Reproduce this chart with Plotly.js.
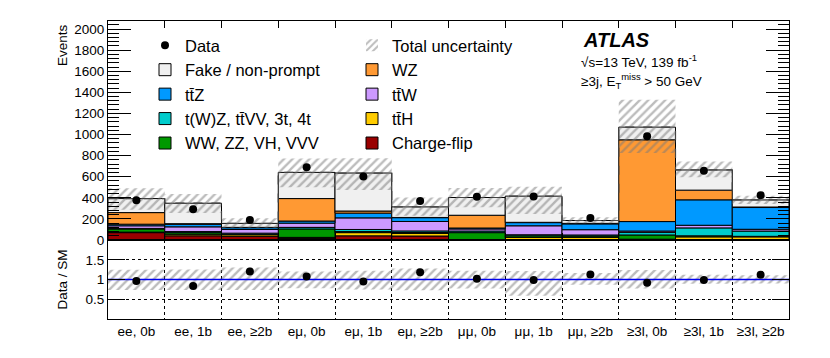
<!DOCTYPE html>
<html><head><meta charset="utf-8">
<script src="https://cdn.plot.ly/plotly-3.0.1.min.js"></script>
<style>html,body{margin:0;padding:0;background:#fff}#plot{width:830px;height:358px}</style>
</head><body><div id="plot"></div>
<script>
const categories = ['ee, 0b','ee, 1b','ee, ≥2b','eμ, 0b','eμ, 1b','eμ, ≥2b','μμ, 0b','μμ, 1b','μμ, ≥2b','≥3l, 0b','≥3l, 1b','≥3l, ≥2b'];
const dataCounts = [378, 292, 190, 689, 603, 371, 410, 412, 208, 984, 657, 425];
const chargeFlip = [70, 40, 35, 15, 40, 38, 0, 0, 0, 0, 0, 0];
const ttH        = [5, 15, 15, 10, 30, 25, 5, 25, 25, 8, 30, 30];
const dibosonVVV = [30, 15, 5, 80, 10, 8, 65, 15, 13, 40, 10, 5];
const tWZ        = [5, 10, 10, 15, 20, 15, 15, 10, 10, 25, 75, 50];
const ttW        = [25, 45, 35, 40, 110, 90, 20, 85, 50, 12, 25, 17];
const ttZ        = [15, 25, 17, 20, 45, 36, 9, 30, 55, 90, 241, 206];
const WZ         = [110, 5, 3, 213, 20, 2, 121, 3, 5, 775, 92, 5];
const fake       = [133, 194, 38, 248, 360, 100, 168, 248, 27, 120, 191, 67];
const uncUp      = [98, 88, 48, 132, 140, 88, 90, 90, 30, 260, 80, 40];
const uncDown    = [105, 92, 42, 140, 160, 85, 92, 170, 25, 245, 70, 38];

const centers = categories.map((_, i) => i);
const edges = centers.map(c => c - 0.5).concat([categories.length - 0.5]);

const stack = [
  {name:'Charge-flip', v:chargeFlip, color:'#990000', legend:'legend2', rank:5},
  {name:'tt̄H', v:ttH, color:'#ffcc00', legend:'legend2', rank:4},
  {name:'WW, ZZ, VH, VVV', v:dibosonVVV, color:'#009900', legend:'legend', rank:5},
  {name:'t(W)Z, tt̄VV, 3t, 4t', v:tWZ, color:'#00cccc', legend:'legend', rank:4},
  {name:'tt̄W', v:ttW, color:'#cc99ff', legend:'legend2', rank:3},
  {name:'tt̄Z', v:ttZ, color:'#0099ff', legend:'legend', rank:3},
  {name:'WZ', v:WZ, color:'#ff9933', legend:'legend2', rank:2},
  {name:'Fake / non-prompt', v:fake, color:'#f0f0f0', legend:'legend', rank:2}
];

const traces = [];
let base = categories.map(() => 0);
stack.forEach(s => {
  traces.push({type:'bar', x:centers, y:s.v, base:base.slice(), width:1,
    marker:{color:s.color, line:{color:'#000', width:1}},
    name:s.name, legend:s.legend, legendrank:s.rank, xaxis:'x', yaxis:'y', hoverinfo:'skip'});
  base = base.map((b, i) => b + s.v[i]);
});
const total = base;

const hatch = {shape:'/', fgcolor:'#7a7a7a', bgcolor:'rgba(0,0,0,0)', size:6, solidity:0.4, fillmode:'overlay'};
traces.push({type:'bar', x:centers, y:total.map((t,i)=>uncUp[i]+uncDown[i]), base:total.map((t,i)=>t-uncDown[i]), width:1,
  marker:{color:'rgba(0,0,0,0)', line:{width:0}, pattern:hatch},
  name:'Total uncertainty', legend:'legend2', legendrank:1, xaxis:'x', yaxis:'y', hoverinfo:'skip'});
traces.push({type:'scatter', mode:'lines', x:edges, y:total.concat([total[total.length-1]]),
  line:{shape:'hv', dash:'dash', color:'#444', width:1.2}, showlegend:false, xaxis:'x', yaxis:'y', hoverinfo:'skip'});
traces.push({type:'scatter', mode:'markers', x:centers, y:dataCounts, name:'Data', legend:'legend', legendrank:1,
  marker:{color:'#000', size:8}, error_y:{type:'sqrt', visible:true, color:'#000', thickness:1.5, width:0},
  xaxis:'x', yaxis:'y', hoverinfo:'skip'});

// ratio panel
traces.push({type:'bar', x:centers, y:total.map((t,i)=>(uncUp[i]+uncDown[i])/t), base:total.map((t,i)=>1-uncDown[i]/t), width:1,
  marker:{color:'rgba(0,0,0,0)', line:{width:0}, pattern:hatch}, showlegend:false, xaxis:'x2', yaxis:'y2', hoverinfo:'skip'});
traces.push({type:'scatter', mode:'lines', x:[edges[0], edges[edges.length-1]], y:[1,1], line:{color:'#0000ee', width:1.5},
  showlegend:false, xaxis:'x2', yaxis:'y2', hoverinfo:'skip'});
traces.push({type:'scatter', mode:'markers', x:centers, y:dataCounts.map((d,i)=>d/total[i]),
  marker:{color:'#000', size:8}, error_y:{type:'data', array:dataCounts.map((d,i)=>Math.sqrt(d)/total[i]), visible:true, color:'#000', thickness:1.5, width:0},
  showlegend:false, xaxis:'x2', yaxis:'y2', hoverinfo:'skip'});

const W = 681, H = 298, L = 108, T = 21;
const px = x => (x - L) / W, py = y => 1 - (y - T) / H;
const fnt = 'Liberation Sans, Arial, Helvetica, sans-serif';

const layout = {
  width:830, height:358, margin:{l:L, r:41, t:T, b:39},
  paper_bgcolor:'#fff', plot_bgcolor:'rgba(0,0,0,0)', barmode:'overlay', showlegend:true,
  font:{family:fnt, size:13.5, color:'#000'},
  xaxis:{domain:[0,1], anchor:'y', range:[-0.5, 11.5], tickmode:'array', tickvals:edges, showticklabels:false,
    ticks:'inside', ticklen:7, tickcolor:'#000', mirror:'allticks', showline:true, linecolor:'#000', linewidth:1,
    showgrid:false, zeroline:false},
  yaxis:{domain:[0.265,1], anchor:'x', range:[0, 2076], tickmode:'linear', tick0:0, dtick:200,
    ticks:'inside', ticklen:23, tickcolor:'#000', minor:{dtick:40, ticks:'inside', ticklen:11, tickcolor:'#000', showgrid:false},
    mirror:'allticks', showline:true, linecolor:'#000', linewidth:1, showgrid:false, zeroline:false},
  xaxis2:{domain:[0,1], anchor:'y2', range:[-0.5, 11.5], tickmode:'array', tickvals:centers, ticktext:categories, ticks:'',
    showline:true, mirror:true, linecolor:'#000', linewidth:1, showgrid:false, zeroline:false,
    minor:{tickmode:'array', tickvals:edges, showgrid:true, griddash:'dot', gridcolor:'#000', gridwidth:1, ticks:''}},
  yaxis2:{domain:[0,0.265], anchor:'x2', range:[0, 2], tickmode:'array', tickvals:[0.5,1,1.5], ticktext:['0.5','1','1.5'],
    ticks:'inside', ticklen:17, tickcolor:'#000', mirror:'allticks', showline:true, linecolor:'#000', linewidth:1,
    showgrid:true, griddash:'dot', gridcolor:'#000', gridwidth:1, zeroline:false,
    title:{text:'Data / SM', font:{size:13.5}, standoff:14}},
  legend:{x:px(145), y:py(28), xanchor:'left', yanchor:'top', bgcolor:'rgba(0,0,0,0)', font:{size:16.5}, traceorder:'normal'},
  legend2:{x:px(352), y:py(28), xanchor:'left', yanchor:'top', bgcolor:'rgba(0,0,0,0)', font:{size:16.5}, traceorder:'normal'},
  annotations:[
    {xref:'paper', yref:'paper', x:px(62), y:py(22), xanchor:'center', yanchor:'top', textangle:-90, text:'Events', showarrow:false, font:{size:13.5}},
    {xref:'paper', yref:'paper', x:px(581), y:py(40), xanchor:'left', yanchor:'middle', text:'<b><i>ATLAS</i></b>', showarrow:false, font:{size:20}},
    {xref:'paper', yref:'paper', x:px(579), y:py(61), xanchor:'left', yanchor:'middle', text:'√s=13 TeV, 139 fb<sup>-1</sup>', showarrow:false, font:{size:13.5}},
    {xref:'paper', yref:'paper', x:px(579), y:py(81), xanchor:'left', yanchor:'middle', text:'≥3j, E<sub>T</sub><sup>miss</sup> > 50 GeV', showarrow:false, font:{size:13.5}}
  ]
};

Plotly.newPlot('plot', traces, layout, {staticPlot:true, displayModeBar:false});
</script></body></html>
